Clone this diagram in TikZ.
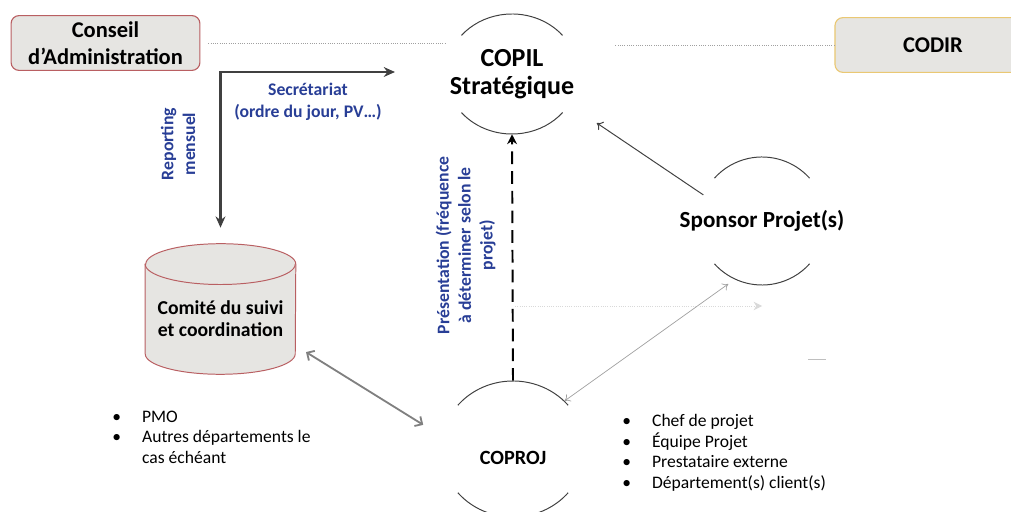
\documentclass[tikz,border=0pt]{standalone}
\usepackage{fontspec}
\setmainfont{Carlito}
\setsansfont{Carlito}
\usetikzlibrary{positioning,arrows.meta,calc,shapes.geometric}
\definecolor{caRed}{RGB}{185,95,98}
\definecolor{caGold}{RGB}{234,200,115}
\definecolor{caFill}{RGB}{230,229,226}
\definecolor{caBlue}{RGB}{40,62,150}
\definecolor{caGray}{RGB}{64,64,64}
\definecolor{caLight}{RGB}{160,160,160}
\tikzset{
    base/.style={font=\sffamily, align=center},
    board/.style={base, rectangle, rounded corners=2mm, fill=caFill, line width=0.8pt,
                  minimum height=1.37cm, font=\sffamily\bfseries\fontsize{16}{19}\selectfont},
    ring/.style={ellipse, inner sep=0pt},
    rim/.style={draw=caGray, line width=0.7pt},
    hub/.style={base, font=\sffamily\bfseries\fontsize{16.4}{19}\selectfont},
    store/.style={draw=caRed, fill=caFill, line width=0.7pt},
    note/.style={base, font=\sffamily\bfseries\fontsize{12.6}{15.5}\selectfont, text=caBlue},
    plain/.style={font=\sffamily\fontsize{12.5}{14.5}\selectfont, align=left, inner sep=0pt},
    link/.style={draw=caLight, densely dotted, line width=0.6pt},
    feed/.style={<->, >={Stealth[length=8pt, width=7pt]}, line width=1.8pt, color=caGray},
    present/.style={->, >={Stealth[length=7pt, width=7pt]}, line width=1.4pt, black,
                    dash pattern=on 9pt off 5pt},
    flow/.style={->, >={To[length=4pt, width=7pt]}, line width=0.7pt, color=caGray},
    twin/.style={<->, >={To[length=4pt, width=6pt]}, line width=0.5pt, color=caLight},
    duplex/.style={<->, >={Straight Barb[length=4pt, width=8pt]}, line width=1.3pt, color=gray},
    faint/.style={->, >={Stealth[length=6pt, width=6pt]}, densely dotted, line width=0.6pt, color=black!15}
}

\begin{document}
\begin{tikzpicture}[x=0.025cm, y=0.025cm]
  \useasboundingbox (0,0) rectangle (1011,512);

  % Boards on the top row
  \node[board, draw=caRed, minimum width=4.72cm] (conseil) at (105.5,469) {Conseil\\d’Administration};
  \node[board, draw=caGold, minimum width=4.9cm] (codir) at (933,467) {CODIR};

  % Open rings (only top and bottom arcs)
  \node[ring, minimum width=3.3cm, minimum height=3cm] (copil) at (512,438) {};
  \node[ring, minimum width=3.2cm, minimum height=3.2cm] (sponsor) at (762,291) {};
  \node[ring, minimum width=3.6cm, minimum height=3.4cm] (coproj) at (513,63) {};
  \foreach \n/\rx/\ry/\a in {copil/1.65cm/1.5cm/40, sponsor/1.6cm/1.6cm/42, coproj/1.8cm/1.7cm/40}{
    \draw[rim] ($(\n.center)+(\a:{\rx} and {\ry})$)
      arc[start angle=\a, end angle=180-\a, x radius=\rx, y radius=\ry];
    \draw[rim] ($(\n.center)+(180+\a:{\rx} and {\ry})$)
      arc[start angle=180+\a, end angle=360-\a, x radius=\rx, y radius=\ry];
  }
  \node[hub, font=\sffamily\bfseries\fontsize{18.5}{20}\selectfont] (copiltxt) at (copil) {COPIL\\Stratégique};
  \node[hub] (sponsortxt) at (sponsor) {Sponsor Projet(s)};
  \node[hub, font=\sffamily\bfseries\fontsize{14.4}{17}\selectfont] (coprojtxt) at ([yshift=-0.225cm]coproj.center) {COPROJ};

  % Comite (cylinder)
  \node[inner sep=0pt, minimum width=3.75cm, minimum height=3.25cm] (comite) at (220.5,203) {};
  \filldraw[store] ([yshift=-0.51cm]comite.north west) -- ([yshift=0.51cm]comite.south west)
    arc[start angle=180, end angle=360, x radius=1.875cm, y radius=0.51cm]
    -- ([yshift=-0.51cm]comite.north east)
    arc[start angle=0, end angle=180, x radius=1.875cm, y radius=0.51cm] -- cycle;
  \draw[store, fill=none] ([yshift=-0.51cm]comite.north west)
    arc[start angle=180, end angle=360, x radius=1.875cm, y radius=0.51cm];
  \node[base, font=\sffamily\bfseries\fontsize{14}{15.5}\selectfont] (comitetxt) at ([yshift=-0.25cm]comite.center) {Comité du suivi\\et coordination};

  % Dotted links between the top boards
  \draw[link, shorten <=0.2cm] (conseil.east) -- (conseil.east -| copil.west);
  \draw[link, shorten >=0.925cm] (codir.west) -- (codir.west -| copil.east);

  % Secretariat / reporting
  \coordinate (secr) at (395,440);
  \draw[feed, shorten >=0.4cm] (secr) -| (comite.north);
  \node[note] (secrlbl) at (308,410) {Secrétariat\\(ordre du jour, PV…)};
  \node[note, rotate=90] (reportlbl) at (178,368) {Reporting\\mensuel};

  % Presentation
  \draw[present] (coproj.north) -- node[note, sloped, allow upside down, above=8pt, pos=0.55] (preslbl)
    {Présentation (fréquence\\à déterminer selon le\\projet)} (copil.south);

  % Other links
  \draw[flow, shorten >=0.83cm] (sponsor.156) -- (copil.-28);
  \draw[twin, shorten >=0.2cm] (coproj.43) -- (sponsor.245);
  \draw[duplex, shorten <=0.3cm, shorten >=0.55cm] (comite.-26) -- (coproj.170);
  \coordinate (ghost) at (515,206);
  \draw[faint] (ghost) -- (ghost -| sponsor.south);
  \draw[black!25, line width=0.5pt] (808,153) -- (826,153);

  % Member lists
  \node[plain, anchor=north west] (pmolist) at (112,104)
    {\begin{tabular}{@{}l@{\hspace{15pt}}l@{}}
      • & PMO\\
      • & Autres départements le\\
        & cas échéant
    \end{tabular}};
  \node[plain, anchor=north west] (teamlist) at (622,100)
    {\begin{tabular}{@{}l@{\hspace{15pt}}l@{}}
      • & Chef de projet\\
      • & Équipe Projet\\
      • & Prestataire externe\\
      • & Département(s)\ client(s)
    \end{tabular}};
\end{tikzpicture}
\end{document}
